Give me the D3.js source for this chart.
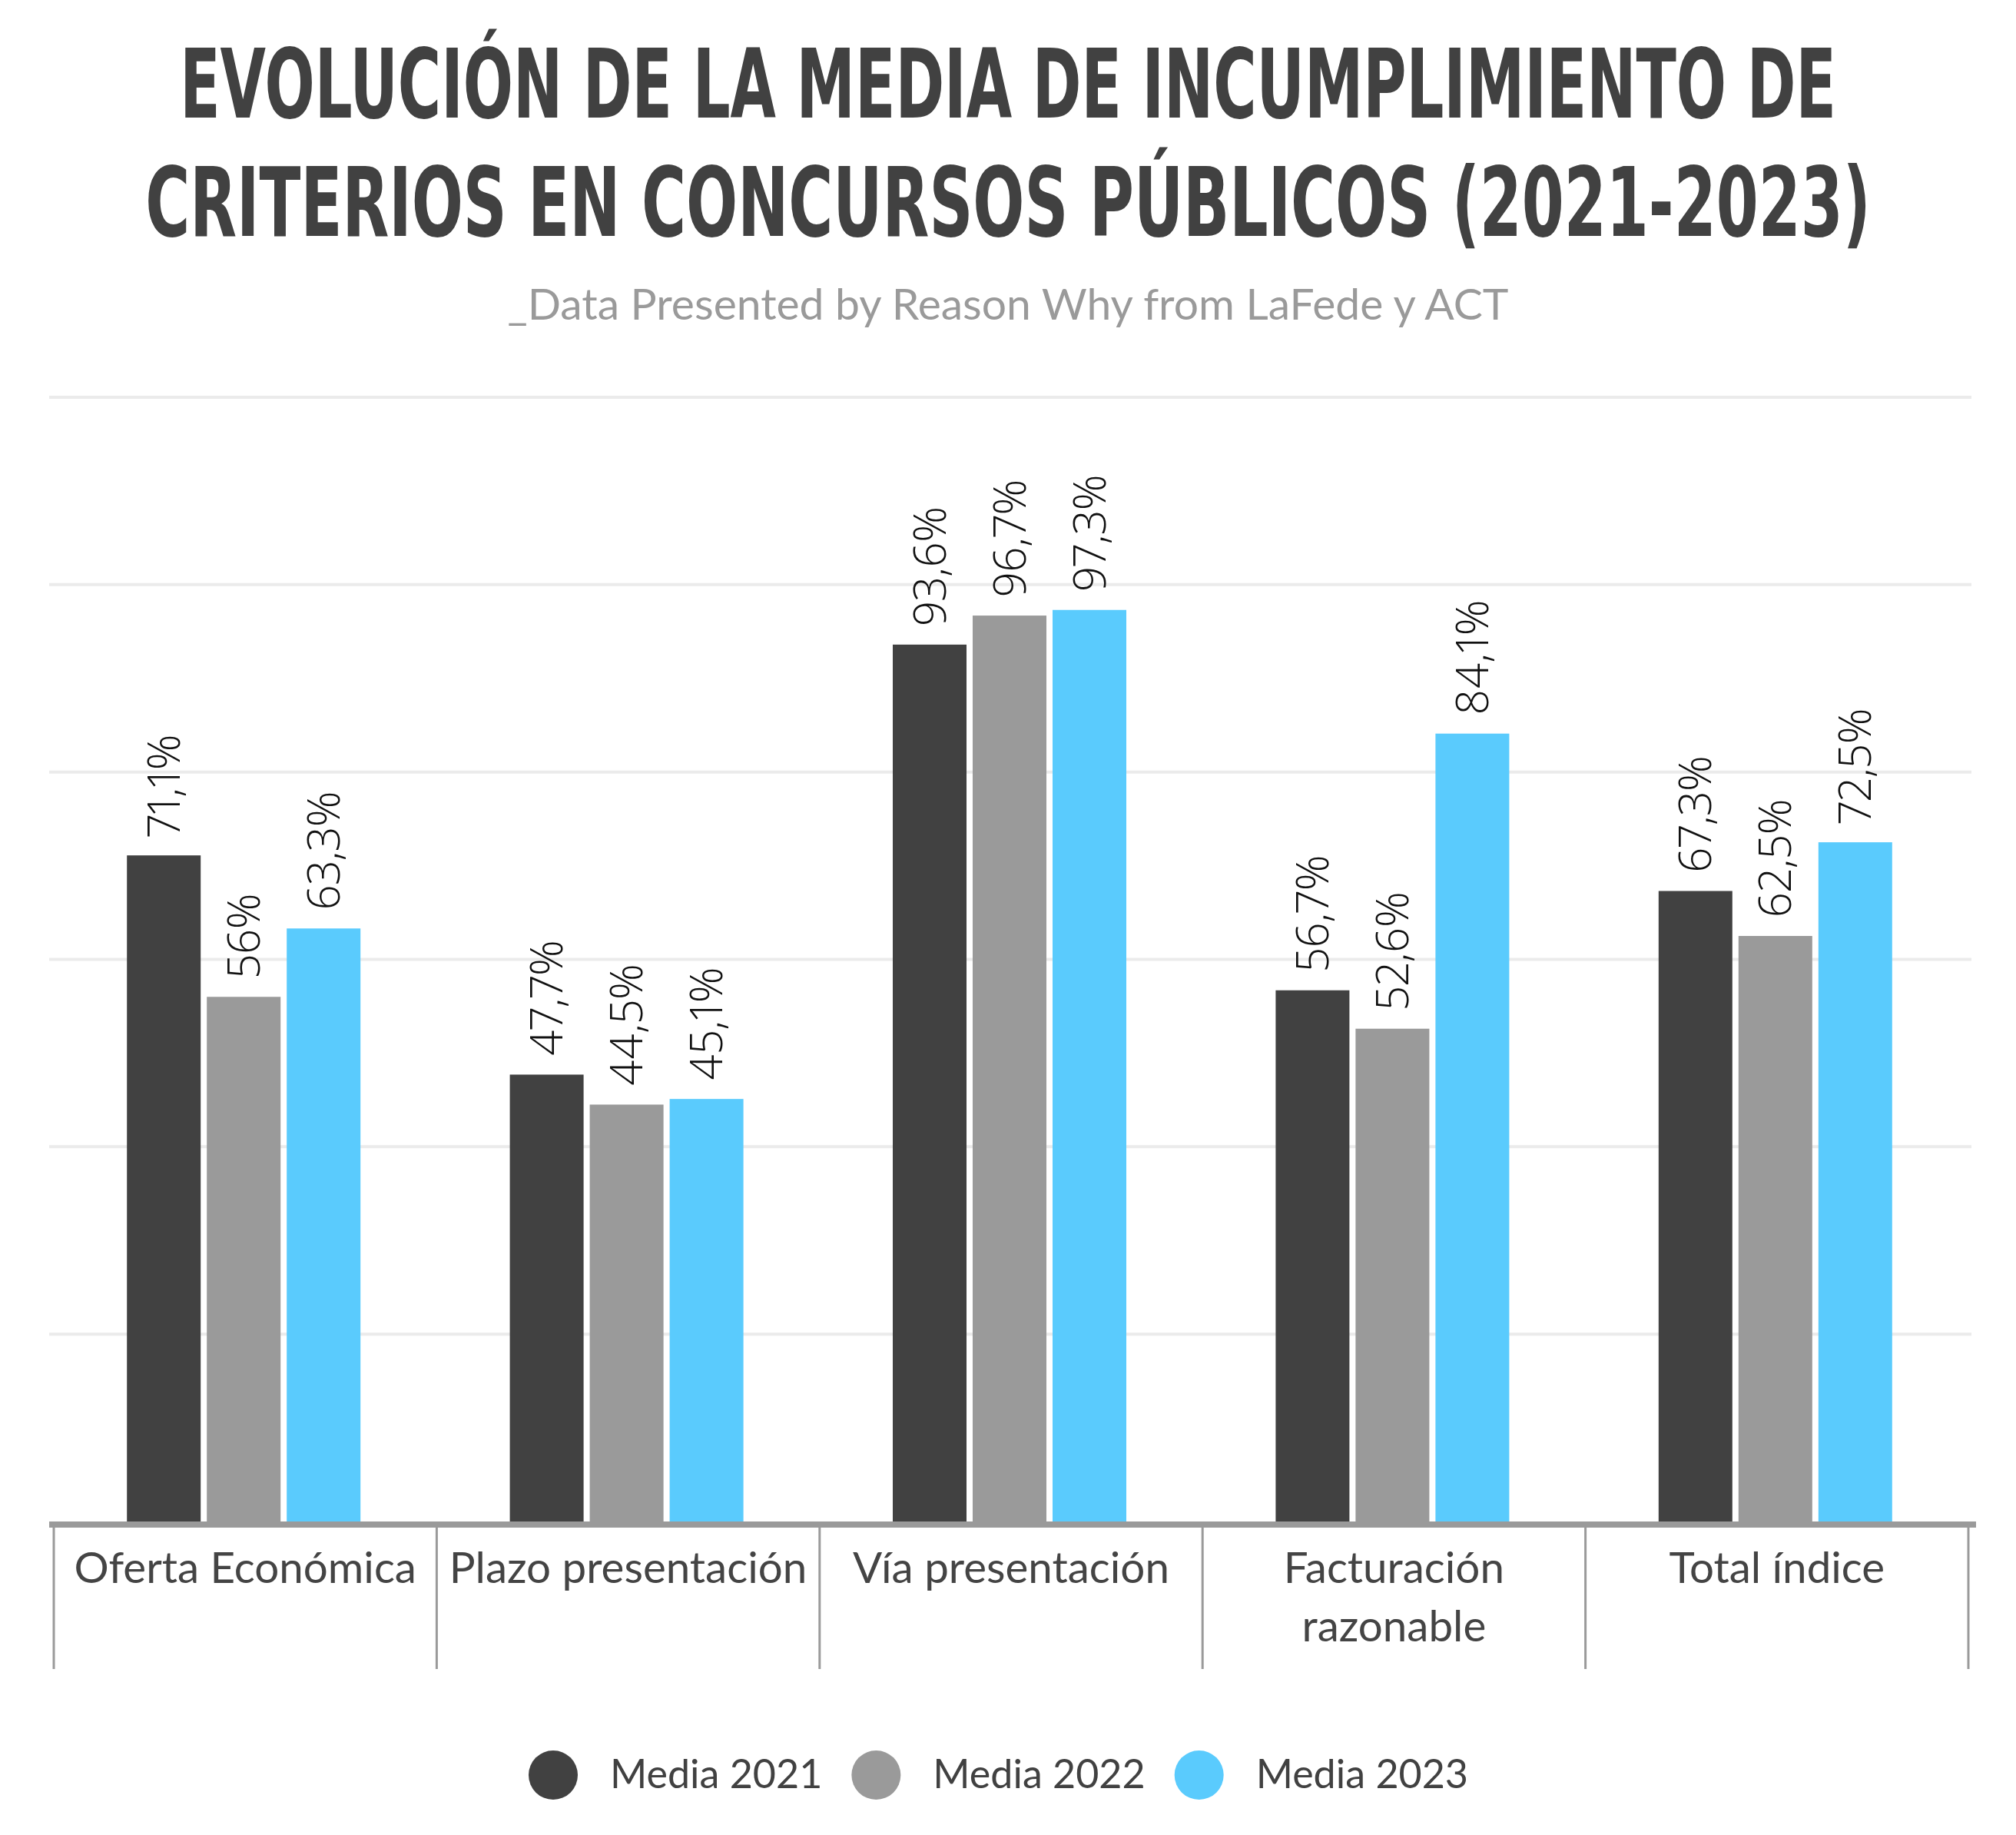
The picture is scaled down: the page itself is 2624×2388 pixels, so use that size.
<!DOCTYPE html>
<html>
<head>
<meta charset="utf-8">
<script src="https://cdn.jsdelivr.net/npm/d3@7"></script>
<style>
  html, body { margin: 0; padding: 0; background: #ffffff; }
  svg { display: block; }
</style>
</head>
<body>
<div id="chart"></div>
<script>
// chart data
const categories = [
    "Oferta Económica",
    "Plazo presentación",
    "Vía presentación",
    "Facturación razonable",
    "Total índice"
];
const series = ["Media 2021", "Media 2022", "Media 2023"];
const media2021 = [71.1, 47.7, 93.6, 56.7, 67.3];
const media2022 = [56, 44.5, 96.7, 52.6, 62.5];
const media2023 = [63.3, 45.1, 97.3, 84.1, 72.5];
const yTicks = [20, 40, 60, 80, 100, 120];
const titleLines = [
    "EVOLUCIÓN DE LA MEDIA DE INCUMPLIMIENTO DE",
    "CRITERIOS EN CONCURSOS PÚBLICOS (2021-2023)"
];
const subtitle = "_Data Presented by Reason Why from LaFede y ACT";

const seriesValues = [media2021, media2022, media2023];
const COLORS = ["#414141", "#9a9a9a", "#5acbfd"];

const WIDTH = 2624, HEIGHT = 2388;
// plot area
const PLOT = {left: 70, right: 2562, top: 517, bottom: 1980};
const FONT = "Lato, 'Open Sans', 'Noto Sans', sans-serif";
const TITLE_WIDTHS = [2156, 2246];

const svg = d3.select("#chart")
    .append("svg")
    .attr("width", WIDTH)
    .attr("height", HEIGHT);

// title: condensed bold, squeezed horizontally to the reference width
svg.append("g")
    .selectAll("text")
    .data(titleLines)
    .enter()
    .append("text")
      .attr("text-anchor", "middle")
      .style("font-family", "'DejaVu Sans Condensed', 'Liberation Sans Narrow', Roboto, sans-serif")
      .style("font-stretch", "condensed")
      .style("font-weight", 700)
      .style("font-size", "124px")
      .attr("fill", "#414141")
      .text(d => d)
      .each(function (d, i) {
          const sx = TITLE_WIDTHS[i] / this.getComputedTextLength();
          d3.select(this).attr("transform",
              "translate(" + (WIDTH / 2) + "," + (153 + i * 154) + ") scale(" + sx + ",1)");
      });

svg.append("text")
    .attr("x", WIDTH / 2)
    .attr("y", 416)
    .attr("text-anchor", "middle")
    .style("font-family", FONT)
    .style("font-size", "57px")
    .attr("fill", "#9a9a9a")
    .text(subtitle);

// scales
const x0 = d3.scaleBand()
    .domain(categories)
    .range([PLOT.left, PLOT.right]);
const x1 = d3.scaleBand()
    .domain(series)
    .range([0, 304])
    .paddingInner(8 / 104);
const y = d3.scaleLinear()
    .domain([0, 120])
    .range([PLOT.bottom, PLOT.top]);

// gridlines
svg.append("g")
    .selectAll("line")
    .data(yTicks)
    .enter()
    .append("line")
      .attr("x1", 64)
      .attr("x2", 2566)
      .attr("y1", d => y(d))
      .attr("y2", d => y(d))
      .attr("stroke", "#ebebeb")
      .attr("stroke-width", 4);

// bars
const groups = svg.append("g")
    .selectAll("g")
    .data(categories)
    .enter()
    .append("g")
      .attr("transform", d => "translate(" + (x0(d) + x0.bandwidth() / 2 - 152 - 2) + ",0)");

const fmt = v => String(v).replace(".", ",") + "%";
const cells = (d, ci) => series.map((s, si) => ({s: s, si: si, v: seriesValues[si][ci]}));

groups.selectAll("rect")
    .data(cells)
    .enter()
    .append("rect")
      .attr("x", d => x1(d.s))
      .attr("y", d => y(d.v))
      .attr("width", x1.bandwidth())
      .attr("height", d => y(0) - y(d.v))
      .attr("fill", d => COLORS[d.si]);

// value labels
groups.selectAll("text")
    .data(cells)
    .enter()
    .append("text")
      .attr("transform", d => "translate(" + (x1(d.s) + x1.bandwidth() / 2 - 2) + "," + (y(d.v) - 24) + ") rotate(-90)")
      .attr("dominant-baseline", "central")
      .style("font-family", "'Open Sans', 'Noto Sans', sans-serif")
      .style("font-variant-numeric", "proportional-nums")
      .style("font-weight", 300)
      .style("font-size", "58px")
      .attr("fill", "#111111")
      .text(d => fmt(d.v));

// x axis line and category separators
svg.append("line")
    .attr("x1", 64)
    .attr("x2", 2572)
    .attr("y1", 1984)
    .attr("y2", 1984)
    .attr("stroke", "#9a9a9a")
    .attr("stroke-width", 8);

const sepX = categories.map(c => x0(c)).concat([PLOT.right]);
svg.append("g")
    .selectAll("line")
    .data(sepX)
    .enter()
    .append("line")
      .attr("x1", d => d)
      .attr("x2", d => d)
      .attr("y1", 1988)
      .attr("y2", 2172)
      .attr("stroke", "#9a9a9a")
      .attr("stroke-width", 3);

// category labels, wrapped inside their band
const catLabels = svg.append("g")
    .selectAll("text")
    .data(categories)
    .enter()
    .append("text")
      .attr("x", d => x0(d) + x0.bandwidth() / 2)
      .attr("y", 2060)
      .attr("text-anchor", "middle")
      .style("font-family", FONT)
      .style("font-size", "56.5px")
      .attr("fill", "#444444")
      .text(d => d);

catLabels.each(function (d) {
    const el = d3.select(this);
    if (this.getComputedTextLength() <= x0.bandwidth() - 10) return;
    const words = d.split(" ");
    el.text(null);
    let line = [];
    let tspan = el.append("tspan").attr("x", el.attr("x")).attr("dy", 0);
    for (const w of words) {
        line.push(w);
        tspan.text(line.join(" "));
        if (tspan.node().getComputedTextLength() > x0.bandwidth() - 10 && line.length > 1) {
            line.pop();
            tspan.text(line.join(" "));
            line = [w];
            tspan = el.append("tspan").attr("x", el.attr("x")).attr("dy", 76).text(w);
        }
    }
});

// legend
const legend = svg.append("g");
let lx = 720;
series.forEach((s, i) => {
    legend.append("circle")
        .attr("cx", lx)
        .attr("cy", 2310)
        .attr("r", 32)
        .attr("fill", COLORS[i]);
    const t = legend.append("text")
        .attr("x", lx + 74)
        .attr("y", 2327)
        .style("font-family", FONT)
        .style("font-size", "52px")
        .attr("fill", "#414141")
        .text(s);
    lx += 74 + t.node().getComputedTextLength() + 70;
});
</script>
</body>
</html>
